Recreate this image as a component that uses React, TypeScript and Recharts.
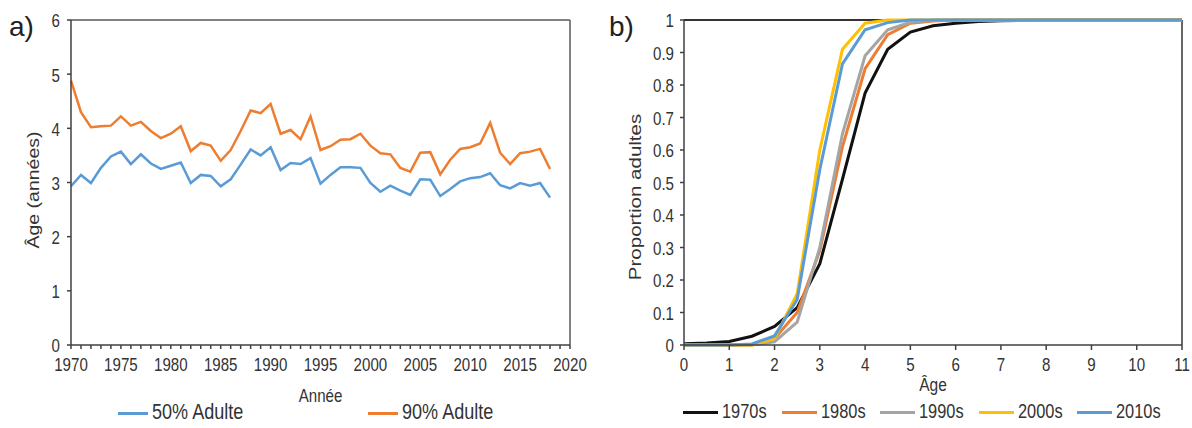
import React from "react";
import { LineChart, Line, XAxis, YAxis, Legend, ReferenceLine } from "recharts";

// panel a) — age at maturity by year
const years = [
  1970, 1971, 1972, 1973, 1974, 1975, 1976, 1977, 1978, 1979,
  1980, 1981, 1982, 1983, 1984, 1985, 1986, 1987, 1988, 1989,
  1990, 1991, 1992, 1993, 1994, 1995, 1996, 1997, 1998, 1999,
  2000, 2001, 2002, 2003, 2004, 2005, 2006, 2007, 2008, 2009,
  2010, 2011, 2012, 2013, 2014, 2015, 2016, 2017, 2018,
];
const adult50 = [
  2.93, 3.14, 2.99, 3.27, 3.48, 3.57, 3.34, 3.52, 3.35, 3.25,
  3.31, 3.37, 2.99, 3.14, 3.12, 2.93, 3.06, 3.33, 3.61, 3.5,
  3.65, 3.23, 3.36, 3.34, 3.45, 2.98, 3.14, 3.28, 3.28, 3.27,
  2.99, 2.83, 2.94, 2.85, 2.77, 3.06, 3.05, 2.75, 2.88, 3.02,
  3.08, 3.1, 3.17, 2.95, 2.89, 2.99, 2.94, 2.99, 2.72,
];
const adult90 = [
  4.88, 4.3, 4.02, 4.04, 4.05, 4.22, 4.05, 4.12, 3.95, 3.82,
  3.9, 4.04, 3.58, 3.73, 3.68, 3.4, 3.6, 3.95, 4.33, 4.28,
  4.45, 3.9, 3.97, 3.8, 4.22, 3.6, 3.67, 3.79, 3.8, 3.9,
  3.68, 3.54, 3.52, 3.27, 3.2, 3.55, 3.56, 3.15, 3.42, 3.62,
  3.65, 3.72, 4.1, 3.55, 3.34, 3.54, 3.57, 3.62, 3.25,
];
const yearTicks = years.concat([2019, 2020]);
const ageTicksA = [0, 1, 2, 3, 4, 5, 6];

// panel b) — proportion adults by age, per decade
const ages = [0, 0.5, 1, 1.5, 2, 2.5, 3, 3.5, 4, 4.5, 5, 5.5, 6, 6.5, 7, 7.5, 8, 8.5, 9, 9.5, 10, 10.5, 11];
const d1970 = [0.004, 0.006, 0.011, 0.027, 0.057, 0.115, 0.25, 0.51, 0.775, 0.91, 0.963, 0.982, 0.99, 0.995, 0.998, 0.999, 1, 1, 1, 1, 1, 1, 1];
const d1980 = [0, 0, 0, 0.001, 0.02, 0.1, 0.29, 0.61, 0.85, 0.955, 0.99, 0.997, 1, 1, 1, 1, 1, 1, 1, 1, 1, 1, 1];
const d1990 = [0, 0, 0, 0, 0.01, 0.07, 0.3, 0.65, 0.89, 0.97, 0.993, 1, 1, 1, 1, 1, 1, 1, 1, 1, 1, 1, 1];
const d2000 = [0, 0, 0, 0, 0.02, 0.158, 0.6, 0.91, 0.99, 1, 1, 1, 1, 1, 1, 1, 1, 1, 1, 1, 1, 1, 1];
const d2010 = [0, 0, 0, 0.003, 0.028, 0.14, 0.54, 0.865, 0.97, 0.992, 1, 1, 1, 1, 1, 1, 1, 1, 1, 1, 1, 1, 1];
const ageTicksB = [0, 1, 2, 3, 4, 5, 6, 7, 8, 9, 10, 11];
const propTicks = [0, 0.1, 0.2, 0.3, 0.4, 0.5, 0.6, 0.7, 0.8, 0.9, 1];

const dataA = years.map((y, i) => ({ year: y, a50: adult50[i], a90: adult90[i] }));
const dataB = ages.map((a, i) => ({
  age: a, d1970: d1970[i], d1980: d1980[i], d1990: d1990[i], d2000: d2000[i], d2010: d2010[i],
}));

const FONT = "'Liberation Sans', Arial, sans-serif";
const TXT = "#333";
const AXIS = "#404040";
const SQ = 0.84; // the source figure is squeezed sideways

// text squeezed horizontally, like the scanned figure
function SqText({ x, y, anchor = "middle", size = 17, dy = "0.355em", rotate = 0, children }: any) {
  const rot = rotate ? ` rotate(${rotate})` : "";
  return (
    <text
      transform={`translate(${x},${y}) scale(${SQ},1)${rot}`}
      textAnchor={anchor} dy={dy} fontSize={size} fontFamily={FONT} fill={TXT}
    >
      {children}
    </text>
  );
}

const xTick = (fmt: (v: number) => string) => (p: any) => (
  <SqText x={p.x} y={p.y} anchor="middle" dy="0.71em" size={18}>{fmt(p.payload.value)}</SqText>
);
const yTick = (p: any) => (
  <SqText x={p.x} y={p.y + 1} anchor="end" size={18}>{String(p.payload.value)}</SqText>
);

function LegendRow({ payload, left, itemWidth, lineW, fontSize }: any) {
  return (
    <div style={{ display: "flex", position: "absolute", left, top: 0, height: 24, alignItems: "center", fontFamily: FONT }}>
      {(payload || []).map((p: any) => (
        <div key={p.value} style={{ width: itemWidth, display: "flex", alignItems: "center" }}>
          <span style={{ display: "inline-block", width: lineW, height: 3, background: p.color, marginRight: 4 }} />
          <span style={{ display: "inline-block", fontSize, color: TXT, lineHeight: 1, transform: `scaleX(${SQ})`, transformOrigin: "left center", whiteSpace: "nowrap" }}>
            {p.value}
          </span>
        </div>
      ))}
    </div>
  );
}

const panelLabel: React.CSSProperties = {
  position: "absolute", left: 9, top: 10, fontSize: 28, fontFamily: FONT, color: "#222", lineHeight: 1.2,
};

export default function App() {
  return (
    <div style={{ position: "relative", width: 1192, height: 428, background: "#fff", display: "flex" }}>
      <style>{`body{margin:0}`}</style>
      <div style={{ position: "relative", width: 600, height: 428 }}>
        <div style={panelLabel}>a)</div>
        <LineChart width={600} height={428} data={dataA} margin={{ top: 20, right: 30, left: 0, bottom: 0 }}>
          <XAxis
            dataKey="year" type="number" domain={[1970, 2020]} ticks={yearTicks} interval={0}
            tick={xTick((v) => (v % 5 === 0 ? String(v) : ""))}
            height={83} tickSize={4} tickMargin={9} stroke={AXIS} strokeWidth={1.5}
            label={{
              content: ({ viewBox }: any) => (
                <SqText x={viewBox.x + viewBox.width / 2} y={viewBox.y + 51} size={18}>Année</SqText>
              ),
            }}
          />
          <YAxis
            type="number" domain={[0, 6]} ticks={ageTicksA} width={71} tick={yTick} tickSize={4} tickMargin={7}
            stroke={AXIS} strokeWidth={1.5}
            label={{
              content: () => <SqText x={33} y={190} size={19.5} rotate={-90}>Âge (années)</SqText>,
            }}
          />
          <ReferenceLine y={6} stroke="#595959" strokeWidth={1.5} />
          <ReferenceLine x={2020} stroke="#595959" strokeWidth={1.5} />
          <Legend
            layout="horizontal" verticalAlign="middle" align="center"
            wrapperStyle={{ top: 401, left: 0, width: 600, height: 24 }}
            content={(props: any) => <LegendRow payload={props.payload} left={118} itemWidth={250} lineW={30} fontSize={21.5} />}
          />
          <Line dataKey="a50" name="50% Adulte" stroke="#5B9BD5" strokeWidth={2.5} dot={false} isAnimationActive={false} />
          <Line dataKey="a90" name="90% Adulte" stroke="#ED7D31" strokeWidth={2.5} dot={false} isAnimationActive={false} />
        </LineChart>
      </div>
      <div style={{ position: "relative", width: 592, height: 428 }}>
        <div style={panelLabel}>b)</div>
        <LineChart width={592} height={428} data={dataB} margin={{ top: 20, right: 10, left: 0, bottom: 0 }}>
          <XAxis
            dataKey="age" type="number" domain={[0, 11]} ticks={ageTicksB} interval={0}
            tick={xTick((v) => String(v))}
            height={83} tickSize={5} tickMargin={8} stroke={AXIS} strokeWidth={1.5}
            label={{
              content: ({ viewBox }: any) => (
                <SqText x={viewBox.x + viewBox.width / 2} y={viewBox.y + 39} size={18.5}>Âge</SqText>
              ),
            }}
          />
          <YAxis
            type="number" domain={[0, 1]} ticks={propTicks} width={84} tick={yTick} tickSize={4} tickMargin={6}
            stroke={AXIS} strokeWidth={1.5}
            label={{
              content: () => <SqText x={35} y={197} size={20.5} rotate={-90}>Proportion adultes</SqText>,
            }}
          />
          <ReferenceLine y={1} stroke="#333" strokeWidth={2} />
          <ReferenceLine x={11} stroke="#333" strokeWidth={1.5} />
          <Legend
            layout="horizontal" verticalAlign="middle" align="center"
            wrapperStyle={{ top: 400, left: 0, width: 592, height: 24 }}
            content={(props: any) => <LegendRow payload={props.payload} left={83} itemWidth={98.5} lineW={35} fontSize={19.5} />}
          />
          <Line dataKey="d1970" name="1970s" stroke="#111111" strokeWidth={3} dot={false} isAnimationActive={false} />
          <Line dataKey="d1980" name="1980s" stroke="#ED7D31" strokeWidth={3} dot={false} isAnimationActive={false} />
          <Line dataKey="d1990" name="1990s" stroke="#A5A5A5" strokeWidth={3} dot={false} isAnimationActive={false} />
          <Line dataKey="d2000" name="2000s" stroke="#FFC000" strokeWidth={3} dot={false} isAnimationActive={false} />
          <Line dataKey="d2010" name="2010s" stroke="#5B9BD5" strokeWidth={3} dot={false} isAnimationActive={false} />
        </LineChart>
      </div>
    </div>
  );
}
